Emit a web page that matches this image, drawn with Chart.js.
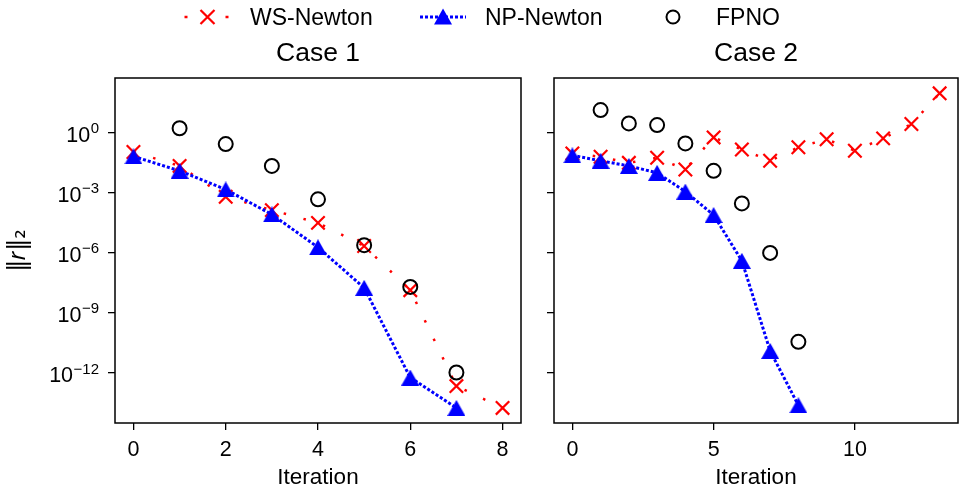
<!DOCTYPE html>
<html lang="en">
<head>
<meta charset="UTF-8">
<title>Residual norm per iteration</title>
<script src="https://cdn.jsdelivr.net/npm/chart.js"></script>
<style>
    body {
        margin: 0;
        background: #fff;
        font-family: 'Liberation Sans', Arial, sans-serif;
    }
    #wrap {
        position: relative;
        width: 959px;
        height: 491px;
        overflow: hidden;
    }
    #legend {
        position: absolute;
        left: 0;
        top: 0;
        z-index: 2;
    }
    canvas {
        position: absolute;
        top: 0;
    }
    #case1 { left: 0; }
    #case2 { left: 530px; }
</style>
</head>
<body>
<div id="wrap">
    <svg id="legend" width="959" height="36" xmlns="http://www.w3.org/2000/svg">
        <!-- WS-Newton -->
        <line x1="184.5" y1="17" x2="187.5" y2="17" stroke="#ff0000" stroke-width="2.5"/>
        <line x1="225.5" y1="17" x2="228.5" y2="17" stroke="#ff0000" stroke-width="2.5"/>
        <path d="M200.5 10 L214.5 24 M214.5 10 L200.5 24" stroke="#ff0000" stroke-width="2.2" fill="none"/>
        <text x="250" y="25" font-family="Liberation Sans, Arial, sans-serif" font-size="23">WS-Newton</text>
        <!-- NP-Newton -->
        <line x1="420" y1="17" x2="466" y2="17" stroke="#0000ff" stroke-width="3" stroke-dasharray="3 2"/>
        <path d="M443 8.5 L452 24.5 L434 24.5 Z" fill="#0000ff"/>
        <text x="485" y="25" font-family="Liberation Sans, Arial, sans-serif" font-size="23">NP-Newton</text>
        <!-- FPNO -->
        <circle cx="673" cy="17" r="6.5" stroke="#000" stroke-width="2" fill="none"/>
        <text x="716" y="25" font-family="Liberation Sans, Arial, sans-serif" font-size="23">FPNO</text>
    </svg>
    <canvas id="case1" width="540" height="491"></canvas>
    <canvas id="case2" width="429" height="491"></canvas>
</div>

<script>
    // y axis (shared, log scale)
    const yTickExp = [0, -3, -6, -9, -12];
    const Y_MIN = 3e-15;
    const Y_MAX = 5.2e2;

    // x axis ticks and limits
    const case1XTicks = [0, 2, 4, 6, 8];
    const case2XTicks = [0, 5, 10];
    const case1XRange = [-0.4, 8.4];
    const case2XRange = [-0.65, 13.65];

    // Case 1
    const case1WSIter = [0, 1, 2, 3, 4, 5, 6, 7, 8];
    const case1WS = [1.05e-1, 2.1e-2, 6.0e-4, 1.3e-4, 3.0e-5, 2.1e-6, 1.3e-8, 2.1e-13, 1.7e-14];
    const case1NPIter = [0, 1, 2, 3, 4, 5, 6, 7];
    const case1NP = [6.3e-2, 1.2e-2, 1.4e-3, 7.9e-5, 1.8e-6, 1.7e-8, 5.6e-13, 1.7e-14];
    const case1FPIter = [1, 2, 3, 4, 5, 6, 7];
    const case1FP = [1.6, 2.6e-1, 2.1e-2, 4.5e-4, 2.3e-6, 1.9e-8, 1.0e-12];

    // Case 2
    const case2WSIter = [0, 1, 2, 3, 4, 5, 6, 7, 8, 9, 10, 11, 12, 13];
    const case2WS = [8.9e-2, 6.0e-2, 3.0e-2, 5.4e-2, 1.4e-2, 5.6e-1, 1.4e-1, 3.8e-2, 1.8e-1, 4.5e-1, 1.2e-1, 5.0e-1, 2.6, 89];
    const case2NPIter = [0, 1, 2, 3, 4, 5, 6, 7, 8];
    const case2NP = [7.1e-2, 3.8e-2, 2.1e-2, 9.5e-3, 1.1e-3, 7.4e-5, 3.8e-7, 1.2e-11, 2.3e-14];
    const case2FPIter = [1, 2, 3, 4, 5, 6, 7, 8];
    const case2FP = [13, 2.8, 2.3, 2.8e-1, 1.2e-2, 2.8e-4, 9.5e-7, 3.4e-11];

    const FONT = "'Liberation Sans', Arial, sans-serif";

    function zip(xs, ys) {
        return xs.map((x, i) => ({ x: x, y: ys[i] }));
    }

    // matplotlib-like "^" marker: bounding box centred on the point
    function triangleMarker(w, h, color) {
        const c = document.createElement('canvas');
        c.width = w;
        c.height = h;
        const g = c.getContext('2d');
        g.fillStyle = color;
        g.beginPath();
        g.moveTo(w / 2, 0);
        g.lineTo(w, h);
        g.lineTo(0, h);
        g.closePath();
        g.fill();
        return c;
    }
    const tri = triangleMarker(18, 16, '#0000ff');

    // box around the axes
    const frame = {
        id: 'frame',
        afterDatasetsDraw(chart) {
            const { ctx, chartArea: a } = chart;
            ctx.save();
            ctx.strokeStyle = '#000';
            ctx.lineWidth = 1.5;
            ctx.strokeRect(a.left, a.top, a.right - a.left, a.bottom - a.top);
            ctx.restore();
        }
    };

    // 10^n tick labels with a raised exponent
    const expLabels = {
        id: 'expLabels',
        afterDraw(chart) {
            const scale = chart.scales.y;
            const ctx = chart.ctx;
            const xEnd = chart.chartArea.left - 16;
            ctx.save();
            ctx.fillStyle = '#000';
            ctx.textAlign = 'right';
            ctx.textBaseline = 'alphabetic';
            yTickExp.forEach(e => {
                const y = scale.getPixelForValue(Math.pow(10, e));
                const sup = e < 0 ? '\u2212' + Math.abs(e) : String(e);
                ctx.font = '15px ' + FONT;
                ctx.fillText(sup, xEnd, y + 1);
                const w = ctx.measureText(sup).width;
                ctx.font = '21.5px ' + FONT;
                ctx.fillText('10', xEnd - w - 0.5, y + 9.5);
            });
            ctx.restore();
        }
    };

    function makeChart(id, title, ws, np, fp, xTicks, xRange, yWidth, padRight, yTitle, extraPlugins) {
        const tickGrid = {
            display: true,
            drawOnChartArea: false,
            drawTicks: true,
            tickLength: 7,
            color: '#000',
            lineWidth: 1.3
        };
        return new Chart(document.getElementById(id), {
            type: 'line',
            data: {
                datasets: [
                    {
                        label: 'WS-Newton',
                        data: ws,
                        order: 3,
                        borderColor: '#ff0000',
                        borderWidth: 2.5,
                        borderDash: [2.5, 18],
                        pointStyle: 'crossRot',
                        pointRadius: 9.5,
                        pointBorderWidth: 2.2,
                        pointBorderColor: '#ff0000',
                        tension: 0,
                        fill: false
                    },
                    {
                        label: 'NP-Newton',
                        data: np,
                        order: 2,
                        borderColor: '#0000ff',
                        borderWidth: 3,
                        borderDash: [3, 2],
                        pointStyle: tri,
                        pointRadius: 9,
                        tension: 0,
                        fill: false
                    },
                    {
                        label: 'FPNO',
                        data: fp,
                        order: 1,
                        showLine: false,
                        pointStyle: 'circle',
                        pointRadius: 7,
                        pointBorderWidth: 2,
                        pointBorderColor: '#000',
                        pointBackgroundColor: 'rgba(0,0,0,0)'
                    }
                ]
            },
            options: {
                responsive: false,
                animation: false,
                layout: {
                    autoPadding: false,
                    padding: { top: 38, right: padRight, bottom: 0, left: 0 }
                },
                plugins: {
                    legend: { display: false },
                    tooltip: { enabled: false },
                    title: {
                        display: true,
                        text: title,
                        fullSize: false,
                        color: '#000',
                        font: { family: FONT, size: 26.5, weight: 'normal' },
                        padding: { top: 0, bottom: 8.2 }
                    }
                },
                scales: {
                    x: {
                        type: 'linear',
                        min: xRange[0],
                        max: xRange[1],
                        afterBuildTicks: s => { s.ticks = xTicks.map(v => ({ value: v })); },
                        afterFit: s => {
                            s.height = 68;
                            s.paddingLeft = 0;
                            s.paddingRight = 0;
                        },
                        grid: tickGrid,
                        border: { display: false },
                        ticks: {
                            color: '#000',
                            padding: 7,
                            maxRotation: 0,
                            font: { family: FONT, size: 21.5 }
                        },
                        title: {
                            display: true,
                            text: 'Iteration',
                            color: '#000',
                            padding: 0,
                            font: { family: FONT, size: 22.5 }
                        }
                    },
                    y: {
                        type: 'logarithmic',
                        min: Y_MIN,
                        max: Y_MAX,
                        afterBuildTicks: s => { s.ticks = yTickExp.map(e => ({ value: Math.pow(10, e) })); },
                        afterFit: s => {
                            s.width = yWidth;
                            s.paddingTop = 0;
                            s.paddingBottom = 0;
                        },
                        grid: tickGrid,
                        border: { display: false },
                        ticks: { callback: () => '' },
                        title: {
                            display: yTitle,
                            text: '\u2016\ud835\udc5f\u2016\u2082',
                            color: '#000',
                            padding: { top: 4, bottom: 0 },
                            font: { family: "'DejaVu Sans', sans-serif", size: 24 }
                        }
                    }
                }
            },
            plugins: [frame].concat(extraPlugins)
        });
    }

    makeChart('case1', 'Case 1',
        zip(case1WSIter, case1WS), zip(case1NPIter, case1NP), zip(case1FPIter, case1FP),
        case1XTicks, case1XRange, 115, 19, true, [expLabels]);

    makeChart('case2', 'Case 2',
        zip(case2WSIter, case2WS), zip(case2NPIter, case2NP), zip(case2FPIter, case2FP),
        case2XTicks, case2XRange, 24, 1, false, []);
</script>
</body>
</html>
